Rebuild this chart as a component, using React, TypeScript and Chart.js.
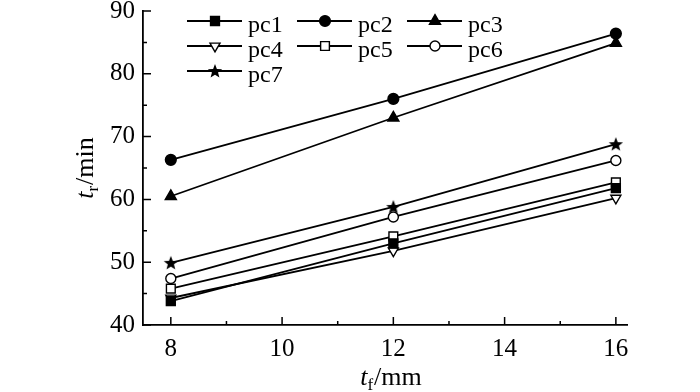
import React, { useEffect, useRef } from "react";
import { Chart, registerables } from "chart.js";
import { drawPoint } from "chart.js/helpers";

Chart.register(...registerables);

const xValues = [8, 12, 16];
const pc1 = [43.8, 53, 61.8];
const pc2 = [66.3, 76, 86.4];
const pc3 = [60.5, 73, 84.9];
const pc4 = [44.3, 51.8, 60.2];
const pc5 = [45.8, 54.1, 62.7];
const pc6 = [47.4, 57.2, 66.2];
const pc7 = [49.9, 58.8, 68.8];

const seriesNames = ["pc1", "pc2", "pc3", "pc4", "pc5", "pc6", "pc7"];
const xTickValues = [8, 10, 12, 14, 16];
const xMinorTicks = [9, 11, 13, 15];
const yTickValues = [40, 50, 60, 70, 80, 90];
const yMinorTicks = [45, 55, 65, 75, 85];

const FONT = '"Liberation Serif", "Times New Roman", serif';

function makeStar(): HTMLCanvasElement {
  const c = document.createElement("canvas");
  c.width = 16;
  c.height = 16;
  const ctx = c.getContext("2d")!;
  ctx.fillStyle = "#000";
  ctx.beginPath();
  const cx = 8, cy = 8.5, R = 7.5, r = 3.2;
  for (let i = 0; i < 10; i++) {
    const a = -Math.PI / 2 + (i * Math.PI) / 5;
    const rad = i % 2 === 0 ? R : r;
    const px = cx + rad * Math.cos(a);
    const py = cy + rad * Math.sin(a);
    if (i === 0) ctx.moveTo(px, py);
    else ctx.lineTo(px, py);
  }
  ctx.closePath();
  ctx.fill();
  return c;
}

const legendPlugin = {
  id: "customLegend",
  afterDraw(chart: any) {
    const ctx = chart.ctx;
    const colX = [187, 297, 407];
    const rowY = [21, 46, 71];
    ctx.save();
    chart.data.datasets.forEach((ds: any, i: number) => {
      const col = i % 3;
      const row = Math.floor(i / 3);
      const x0 = colX[col];
      const y0 = rowY[row];
      ctx.strokeStyle = "#000";
      ctx.lineWidth = 1.8;
      ctx.beginPath();
      ctx.moveTo(x0, y0);
      ctx.lineTo(x0 + 55, y0);
      ctx.stroke();
      ctx.fillStyle = ds.pointBackgroundColor;
      ctx.strokeStyle = "#000";
      ctx.lineWidth = ds.pointBorderWidth;
      drawPoint(ctx, {
        pointStyle: ds.pointStyle,
        rotation: ds.pointRotation || 0,
        radius: ds.pointRadius,
        borderWidth: ds.pointBorderWidth,
      } as any, x0 + 28, y0);
      ctx.fillStyle = "#000";
      ctx.font = `24px ${FONT}`;
      ctx.textAlign = "left";
      ctx.textBaseline = "alphabetic";
      ctx.fillText(ds.label, x0 + 61, y0 + 11);
    });
    ctx.restore();
  },
};

const axisPlugin = {
  id: "axisDecor",
  afterDraw(chart: any) {
    const ctx = chart.ctx;
    const xs = chart.scales.x;
    const ys = chart.scales.y;
    const area = chart.chartArea;
    ctx.save();
    ctx.strokeStyle = "#000";
    ctx.lineWidth = 1.5;
    ctx.beginPath();
    xTickValues.forEach((v) => {
      const px = xs.getPixelForValue(v);
      ctx.moveTo(px, area.bottom);
      ctx.lineTo(px, area.bottom - 8);
    });
    xMinorTicks.forEach((v) => {
      const px = xs.getPixelForValue(v);
      ctx.moveTo(px, area.bottom);
      ctx.lineTo(px, area.bottom - 4);
    });
    yTickValues.forEach((v) => {
      const py = ys.getPixelForValue(v);
      ctx.moveTo(area.left, py);
      ctx.lineTo(area.left + 8, py);
    });
    yMinorTicks.forEach((v) => {
      const py = ys.getPixelForValue(v);
      ctx.moveTo(area.left, py);
      ctx.lineTo(area.left + 4, py);
    });
    ctx.stroke();

    ctx.fillStyle = "#000";
    ctx.textBaseline = "alphabetic";
    ctx.textAlign = "left";
    const drawTitle = (main: string, sub: string, rest: string) => {
      ctx.font = `italic 26px ${FONT}`;
      const w1 = ctx.measureText(main).width;
      ctx.font = `17px ${FONT}`;
      const w2 = ctx.measureText(sub).width;
      ctx.font = `26px ${FONT}`;
      const w3 = ctx.measureText(rest).width;
      const total = w1 + w2 + 1 + w3;
      let x = -total / 2;
      ctx.font = `italic 26px ${FONT}`;
      ctx.fillText(main, x, 0);
      x += w1;
      ctx.font = `17px ${FONT}`;
      ctx.fillText(sub, x, 5);
      x += w2 + 1;
      ctx.font = `26px ${FONT}`;
      ctx.fillText(rest, x, 0);
    };
    ctx.save();
    ctx.translate((area.left + area.right) / 2 + 6, 385);
    drawTitle("t", "f", "/mm");
    ctx.restore();
    ctx.save();
    ctx.translate(93, (area.top + area.bottom) / 2);
    ctx.rotate(-Math.PI / 2);
    drawTitle("t", "r", "/min");
    ctx.restore();
    ctx.restore();
  },
};

export default function App() {
  const ref = useRef<HTMLCanvasElement | null>(null);
  useEffect(() => {
    document.body.style.margin = "0";
    let chart: Chart | null = null;
    let cancelled = false;
    const build = () => {
      if (cancelled || !ref.current) return;
      const star = makeStar();
      const allSeries = [pc1, pc2, pc3, pc4, pc5, pc6, pc7];
      const styles: any[] = [
        { pointStyle: "rect", pointRadius: 6.3, fill: "#000" },
        { pointStyle: "circle", pointRadius: 5.4, fill: "#000" },
        { pointStyle: "triangle", pointRadius: 6.4, fill: "#000" },
        { pointStyle: "triangle", pointRadius: 5.8, fill: "#fff", rotation: 180 },
        { pointStyle: "rect", pointRadius: 6.2, fill: "#fff" },
        { pointStyle: "circle", pointRadius: 5, fill: "#fff" },
        { pointStyle: star, pointRadius: 7, fill: "#000" },
      ];
      const datasets = allSeries.map((s, i) => ({
        label: seriesNames[i],
        data: xValues.map((x, j) => ({ x, y: s[j] })),
        borderColor: "#000",
        borderWidth: 1.8,
        pointStyle: styles[i].pointStyle,
        pointRadius: styles[i].pointRadius,
        pointRotation: styles[i].rotation || 0,
        pointBackgroundColor: styles[i].fill,
        pointBorderColor: "#000",
        pointBorderWidth: 1.4,
        tension: 0,
        fill: false,
      }));
      chart = new Chart(ref.current, {
        type: "line",
        data: { datasets },
        options: {
          animation: false,
          responsive: false,
          layout: { padding: { top: 11, right: 73, left: 0, bottom: 0 } },
          plugins: { legend: { display: false }, tooltip: { enabled: false } },
          scales: {
            x: {
              type: "linear",
              min: 7.5,
              max: 16.2,
              grid: { display: false, drawTicks: false },
              border: { display: true, color: "#000", width: 1.8 },
              afterBuildTicks: (scale: any) => {
                scale.ticks = xTickValues.map((v) => ({ value: v }));
              },
              afterFit: (scale: any) => {
                scale.height = 67;
                scale.paddingLeft = 0;
                scale.paddingRight = 0;
              },
              ticks: {
                color: "#000",
                padding: 9,
                font: { family: FONT, size: 25 },
                maxRotation: 0,
              },
            },
            y: {
              type: "linear",
              min: 40,
              max: 90,
              grid: { display: false, drawTicks: false },
              border: { display: true, color: "#000", width: 1.8 },
              afterBuildTicks: (scale: any) => {
                scale.ticks = yTickValues.map((v) => ({ value: v }));
              },
              afterFit: (scale: any) => {
                scale.width = 143;
                scale.paddingTop = 0;
                scale.paddingBottom = 0;
              },
              ticks: {
                color: "#000",
                padding: 8,
                font: { family: FONT, size: 25 },
              },
            },
          },
        },
        plugins: [axisPlugin, legendPlugin],
      } as any);
    };
    const fonts: any = (document as any).fonts;
    if (fonts && fonts.load) {
      Promise.all([
        fonts.load('24px "Liberation Serif"'),
        fonts.load('italic 24px "Liberation Serif"'),
      ]).then(build, build);
    } else {
      build();
    }
    return () => {
      cancelled = true;
      if (chart) chart.destroy();
    };
  }, []);
  return (
    <div style={{ position: "absolute", left: 0, top: 0, width: 700, height: 392, background: "#fff" }}>
      <canvas ref={ref} width={700} height={392} />
    </div>
  );
}
